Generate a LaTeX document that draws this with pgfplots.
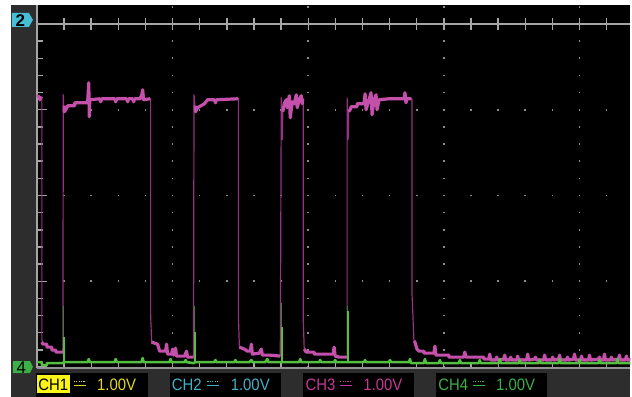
\documentclass[border=0pt]{standalone}
\usepackage{fontspec}
\setmainfont{Liberation Sans}
\usepackage{pgfplots}
\pgfplotsset{compat=1.18}
\definecolor{dgray}{RGB}{45,45,45}
\definecolor{grat}{RGB}{165,165,165}
\definecolor{gdot}{RGB}{140,140,140}
\definecolor{mag}{RGB}{196,80,172}
\definecolor{magd}{RGB}{150,50,130}
\definecolor{grn}{RGB}{84,190,64}
\definecolor{grnd}{RGB}{55,130,45}
\definecolor{cyn}{RGB}{70,190,215}
\definecolor{yel}{RGB}{225,215,40}
\definecolor{ybox}{RGB}{250,245,20}
\definecolor{ctwo}{RGB}{70,175,200}
\definecolor{cthree}{RGB}{195,55,150}
\definecolor{cfour}{RGB}{60,175,70}
\begin{document}
\begin{tikzpicture}
% ---------- background and graticule (pixel coordinates) ----------
\begin{scope}[shift={(0pt,199pt)},x=0.5pt,y=-0.5pt]
\fill[white] (0,0) rectangle (632,398);
\fill[dgray] (11,5) rectangle (632,398);
\fill[black] (36,5) rectangle (632,368);
% legend boxes
\fill[black] (36,374) rectangle (148,398);
\fill[black] (170,374) rectangle (282,398);
\fill[black] (304,374) rectangle (415,398);
\fill[black] (437,374) rectangle (548,398);
% dotted grid
\foreach \gx in {173,309,445,581}{
  \foreach \k in {-1,...,20}{
    \fill[gdot] ({\gx-0.8},{24+17.2*\k-0.8}) rectangle ({\gx+0.8},{24+17.2*\k+0.8});
  }
}
\foreach \gy in {110,196,282}{
  \foreach \k in {1,...,21}{
    \fill[gdot] ({37+27.2*\k-0.8},{\gy-0.8}) rectangle ({37+27.2*\k+0.8},{\gy+0.8});
  }
}
% top line with ticks
\draw[grat,line width=0.8pt] (37,24) -- (632,24);
\foreach \k in {1,...,21}{
  \draw[grat,line width=0.7pt] ({37+27.2*\k},18) -- ({37+27.2*\k},30);
}
% left axis with ticks
\draw[grat,line width=1pt] (37,5) -- (37,369);
\foreach \k in {0,...,20}{
  \pgfmathsetmacro{\tl}{ifthenelse(mod(\k,5)==0,47,43)}
  \draw[grat,line width=0.7pt] (37,{24+17.2*\k}) -- (\tl,{24+17.2*\k});
}
% bottom ticks
\foreach \k in {1,...,21}{
  \draw[grat,line width=0.6pt] ({37+27.2*\k},363) -- ({37+27.2*\k},368);
}
\end{scope}
% ---------- waveforms ----------
\begin{axis}[hide axis, scale only axis, width=316pt, height=199pt,
  xmin=0, xmax=632, ymin=0, ymax=398, y dir=reverse, clip=false]
% CH3 thin full trace (edges)
\addplot[magd, line width=0.6pt, line join=round] coordinates {
(37,95)(39,97)(40,100)(41,98)(42,99)(42,340)(43,345)(47,345)(47,348)(52,348)(52,351)(56,351)(56,353)(63,353)
(63.5,95)(64,113)(66,110)(68,106)(75,106)(75,103)(87,103)(88,100)(89,83)(89.5,117)(90,100)(151,99)
(151,315)(152,343)(158,345)(160,352)(166,352)(167,345)(168,355)(175,355)(176,349)(177,357)(185,357)(187,352)(188,358)(194,358)
(194.5,95)(196,112)(198,108)(205,104)(208,100)(239,99)
(239,317)(240,348)(245,350)(248,352)(251,352)(252,345)(253,355)(260,354)(262,350)(263,356)(270,356)(281,357)
(282,98)(283,140)(283.5,112)(285,104)(287,100)(288,108)(290,96)(291,118)(293,102)(295,104)(297,95)(298,108)(300,100)(302,96)(303,104)(304,99)
(304,320)(305,350)(307,353)(315,353)(315,355)(330,355)(334,355)(335,348)(336,357)(340,358)(348,358)
(348,98)(349,140)(349.5,112)(351,110)(352,107)(358,107)(358,104)(365,104)(366,94)(367,110)(369,103)(372,93)(373,115)(375,100)(377,95)(378,110)(380,100)(405,99)(406,93)(407,103)(408,99)(413,99)
(413,293)(415,342)(416,343)(418,350)(420,352)(425,352)(425,354)(435,354)(436,347)(437,356)(450,356)(450,358)(465,358)(466,353)(467,358)(485,358)(485,360)(632,360)
};
% CH3 thick plateaus
\pgfplotsset{thk/.style={mag, line width=1.6pt, line join=round}}
\addplot[thk] coordinates {(37,96)(39,97)(40,100)(41,98)(42,99)};
\addplot[thk] coordinates {
(42,343)(43,345)(47,345)(47,348)(52,348)(52,351)(56,351)(56,353)(63,353)};
\addplot[thk] coordinates {
(64.5,106)(64.5,112)(66,110)(68,106)(75,106)(75,103)(87,103)(88,100)(89,83)(89.5,117)(90,100)(100,99)(101,102)(102,99)(115,99)(116,102)(117,99)(127,99)(128,102)(129,99)(133,99)(134,102)(135,99)(140,99)(142,96)(143,90)(144,100)(150.5,99)};
\addplot[thk] coordinates {
(152,343)(158,345)(160,352)(166,352)(167,345)(168,355)(172,355)(173,350)(174,356)(176,349)(177,357)(185,357)(187,352)(188,358)(194,358)};
\addplot[thk] coordinates {
(195.5,106)(196,112)(198,108)(205,104)(208,100)(215,100)(216,103)(217,100)(238.5,99)};
\addplot[thk] coordinates {
(240,348)(245,350)(248,352)(251,352)(252,345)(253,355)(260,354)(262,350)(263,356)(270,356)(281,357)};
\addplot[thk] coordinates {
(283.5,112)(285,104)(287,100)(288,108)(290,96)(291,118)(293,102)(295,104)(297,95)(298,108)(300,100)(302,96)(303,104)(303.5,99)};
\addplot[thk] coordinates {
(305,350)(307,353)(315,353)(315,355)(330,355)(334,355)(335,348)(336,357)(340,358)(348,358)};
\addplot[thk] coordinates {
(349.5,112)(351,110)(352,107)(358,107)(358,104)(365,104)(366,94)(367,110)(369,103)(372,93)(373,115)(375,100)(377,95)(378,110)(380,100)(390,99)(395,99)(405,99)(406,93)(407,103)(408,99)(412.5,99)};
\addplot[thk] coordinates {
(415,342)(416,343)(418,350)(420,352)(425,352)(425,354)(435,354)(436,347)(437,356)(450,356)(450,358)(465,358)(466,353)(467,358)(485,358)(485,360)
(490,360)(491,355)(492,361)(497,361)(498,358)(499,361)(505,360)(506,356)(507,361)(511,361)(512,358)(513,361)(518,361)(519,357)(520,361)(528,361)(529,355)(530,361)(536,360)(537,358)(538,361)(545,361)(546,356)(547,361)(553,361)(554,358)(555,361)(560,360)(561,356)(562,361)(568,361)(569,358)(570,361)(575,360)(576,355)(577,361)(582,361)(583,357)(584,361)(590,361)(591,356)(592,361)(600,360)(601,358)(602,361)(605,361)(606,355)(607,361)(612,361)(613,358)(614,361)(620,360)(621,356)(622,361)(627,361)(628,357)(629,361)(632,361)};
% CH4 green spikes (thin)
\addplot[grnd, line width=0.6pt] coordinates {(63.5,364)(63.5,307)};
\addplot[grnd, line width=0.6pt] coordinates {(194.8,364)(194.8,307)};
\addplot[grnd, line width=0.6pt] coordinates {(282.3,364)(282.3,304)};
\addplot[grnd, line width=0.6pt] coordinates {(348.3,364)(348.3,307)};
% CH4 green spikes (bright)
\addplot[grn, line width=0.9pt] coordinates {(64,364)(64,338)};
\addplot[grn, line width=0.9pt] coordinates {(195.3,364)(195.3,333)};
\addplot[grn, line width=0.9pt] coordinates {(282.8,364)(282.8,328)};
\addplot[grn, line width=0.9pt] coordinates {(348.8,364)(348.8,312)};
% CH4 baseline
\addplot[grn, line width=1.3pt, line join=round] coordinates {
(37,363)(42,363)(42,366)(47,366)(47,364)(63,364)(64,363)(88,363)(89,360)(90,363)(115,363)(116,360)(117,363)(142,363)(143,359)(144,363)
(170,363)(171,360)(172,363)(185,363)(186,361)(187,363)(194,364)(196,363)(215,363)(216,361)(217,363)(235,363)(236,361)(237,363)
(250,363)(252,361)(253,363)(266,363)(268,360)(269,363)(283,363)(300,363)(301,360)(302,363)(320,363)(321,361)(322,363)(335,363)(336,361)(337,363)
(349,363)(365,363)(366,361)(367,363)(390,363)(391,361)(392,363)(410,363)(411,360)(412,364)(425,364)(426,360)(427,364)(440,364)(441,361)(442,364)
(460,364)(461,361)(462,364)(480,364)(481,361)(482,364)(500,364)(501,360)(502,364)(520,364)(521,361)(522,364)(540,364)(541,361)(542,364)
(560,364)(561,360)(562,364)(580,364)(581,361)(582,364)(600,364)(601,361)(602,364)(618,364)(619,360)(620,364)(632,364)};
\end{axis}
% ---------- overlays: bottom line, markers, legend ----------
\begin{scope}[shift={(0pt,199pt)},x=0.5pt,y=-0.5pt]
\draw[grat!120!white,line width=1pt] (37,369) -- (632,369);
% marker 2
\fill[cyn] (12,13) -- (29,13) -- (33,20) -- (29,27) -- (12,27) -- cycle;
\node[font=\fontsize{8.5}{9}\selectfont\bfseries, text=black, inner sep=0pt] at (20.5,20.5) {2};
% marker 4
\fill[cfour] (13,362) -- (30,362) -- (33,368) -- (30,374) -- (13,374) -- cycle;
\node[font=\fontsize{8.5}{9}\selectfont, text=black, inner sep=0pt] at (21.5,368.5) {4};
% CH1
\fill[ybox] (37,376) rectangle (70,394);
\node[font=\fontsize{8.3}{9}\selectfont, text=black, inner sep=0pt, xscale=0.9] at (53.5,386) {CH1};
\draw[yel,line width=0.5pt,dash pattern=on 0.6pt off 0.6pt] (74,382) -- (86,382);
\draw[yel,line width=0.5pt] (74,386) -- (86,386);
\node[font=\fontsize{8.3}{9}\selectfont, text=yel, inner sep=0pt, anchor=west, xscale=0.9] at (97,386) {1.00V};
% CH2
\node[font=\fontsize{8.3}{9}\selectfont, text=ctwo, inner sep=0pt, anchor=west, xscale=0.9] at (172,386) {CH2};
\draw[ctwo,line width=0.5pt,dash pattern=on 0.6pt off 0.6pt] (208,382) -- (220,382);
\draw[ctwo,line width=0.5pt] (208,386) -- (220,386);
\node[font=\fontsize{8.3}{9}\selectfont, text=ctwo, inner sep=0pt, anchor=west, xscale=0.9] at (231,386) {1.00V};
% CH3
\node[font=\fontsize{8.3}{9}\selectfont, text=cthree, inner sep=0pt, anchor=west, xscale=0.9] at (306,386) {CH3};
\draw[cthree,line width=0.5pt,dash pattern=on 0.6pt off 0.6pt] (341,382) -- (353,382);
\draw[cthree,line width=0.5pt] (341,386) -- (353,386);
\node[font=\fontsize{8.3}{9}\selectfont, text=cthree, inner sep=0pt, anchor=west, xscale=0.9] at (364,386) {1.00V};
% CH4
\node[font=\fontsize{8.3}{9}\selectfont, text=cfour, inner sep=0pt, anchor=west, xscale=0.9] at (439,386) {CH4};
\draw[cfour,line width=0.5pt,dash pattern=on 0.6pt off 0.6pt] (474,382) -- (486,382);
\draw[cfour,line width=0.5pt] (474,386) -- (486,386);
\node[font=\fontsize{8.3}{9}\selectfont, text=cfour, inner sep=0pt, anchor=west, xscale=0.9] at (497,386) {1.00V};
\end{scope}
\end{tikzpicture}
\end{document}
